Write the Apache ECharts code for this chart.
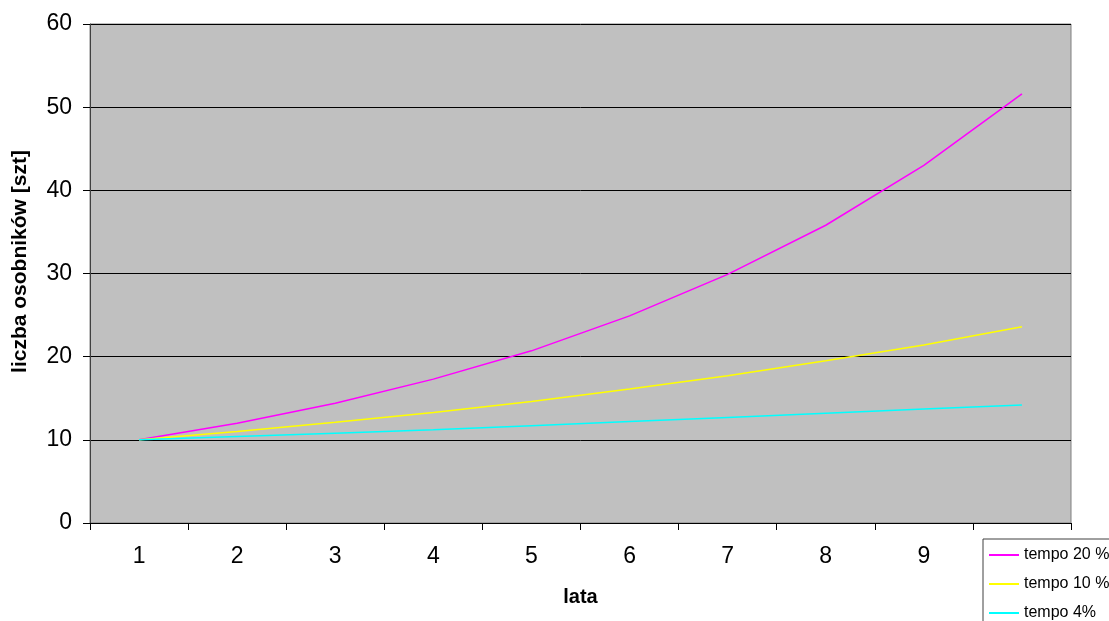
<!DOCTYPE html>
<html>
<head>
<meta charset="utf-8">
<script src="https://cdn.jsdelivr.net/npm/echarts@6/dist/echarts.min.js"></script>
<style>
html,body{margin:0;padding:0;background:#fff;}
#c{width:1109px;height:621px;}
</style>
</head>
<body>
<div id="c"></div>
<script>
var categories = ['1','2','3','4','5','6','7','8','9','10'];
var tempo20 = [10, 12, 14.4, 17.3, 20.7, 24.9, 29.9, 35.8, 43.0, 51.6];
var tempo10 = [10, 11, 12.1, 13.3, 14.6, 16.1, 17.7, 19.5, 21.4, 23.6];
var tempo4 = [10, 10.4, 10.8, 11.2, 11.7, 12.2, 12.7, 13.2, 13.7, 14.2];
var seriesNames = ['tempo 20 %', 'tempo 10 %', 'tempo 4%'];
var yTicks = {min: 0, max: 60, interval: 10};

var chart = echarts.init(document.getElementById('c'), null, {renderer: 'canvas'});
var font = 'Liberation Sans, Arial, sans-serif';
function lineSeries(name, data, color) {
  return {
    name: name, type: 'line', data: data, showSymbol: false, symbol: 'none',
    lineStyle: {color: color, width: 1.5}, itemStyle: {color: color},
    animation: false
  };
}
chart.setOption({
  animation: false,
  backgroundColor: '#ffffff',
  grid: {
    left: 90, right: 38, top: 24, bottom: 98,
    outerBoundsMode: 'none', containLabel: false,
    show: true, backgroundColor: '#C0C0C0', borderColor: '#808080', borderWidth: 1
  },
  xAxis: {
    type: 'category', data: categories, boundaryGap: true,
    name: 'lata', nameLocation: 'middle', nameGap: 64,
    nameTextStyle: {fontFamily: font, fontSize: 20, fontWeight: 'bold', color: '#000'},
    axisLine: {show: true, lineStyle: {color: '#000', width: 1}},
    axisTick: {show: true, length: 7, alignWithLabel: false, lineStyle: {color: '#000'}},
    axisLabel: {fontFamily: font, fontSize: 23, color: '#000', margin: 22, interval: 0},
    splitLine: {show: false}
  },
  yAxis: {
    type: 'value', min: yTicks.min, max: yTicks.max, interval: yTicks.interval,
    name: 'liczba osobników [szt]', nameLocation: 'middle', nameGap: 59, nameRotate: 90,
    nameTextStyle: {fontFamily: font, fontSize: 21, fontWeight: 'bold', color: '#000', padding: [0, 0, 0, 24]},
    axisLine: {show: true, lineStyle: {color: '#404040', width: 1}},
    axisTick: {show: true, length: 7, lineStyle: {color: '#000'}},
    axisLabel: {fontFamily: font, fontSize: 23, color: '#000', margin: 18},
    splitLine: {show: true, lineStyle: {color: '#000', width: 1}}
  },
  legend: {
    data: seriesNames, orient: 'vertical', left: 983, top: 539, height: 100,
    backgroundColor: '#ffffff', borderColor: '#404040', borderWidth: 1,
    padding: [8, 30, 6, 6], itemGap: 13, itemWidth: 30, itemHeight: 2, icon: 'rect',
    textStyle: {fontFamily: font, fontSize: 16, color: '#000', padding: [0, 0, 0, 0]},
    z: 10
  },
  series: [
    lineSeries(seriesNames[0], tempo20, '#FF00FF'),
    lineSeries(seriesNames[1], tempo10, '#FFFF00'),
    lineSeries(seriesNames[2], tempo4, '#00FFFF')
  ]
});
</script>
</body>
</html>
